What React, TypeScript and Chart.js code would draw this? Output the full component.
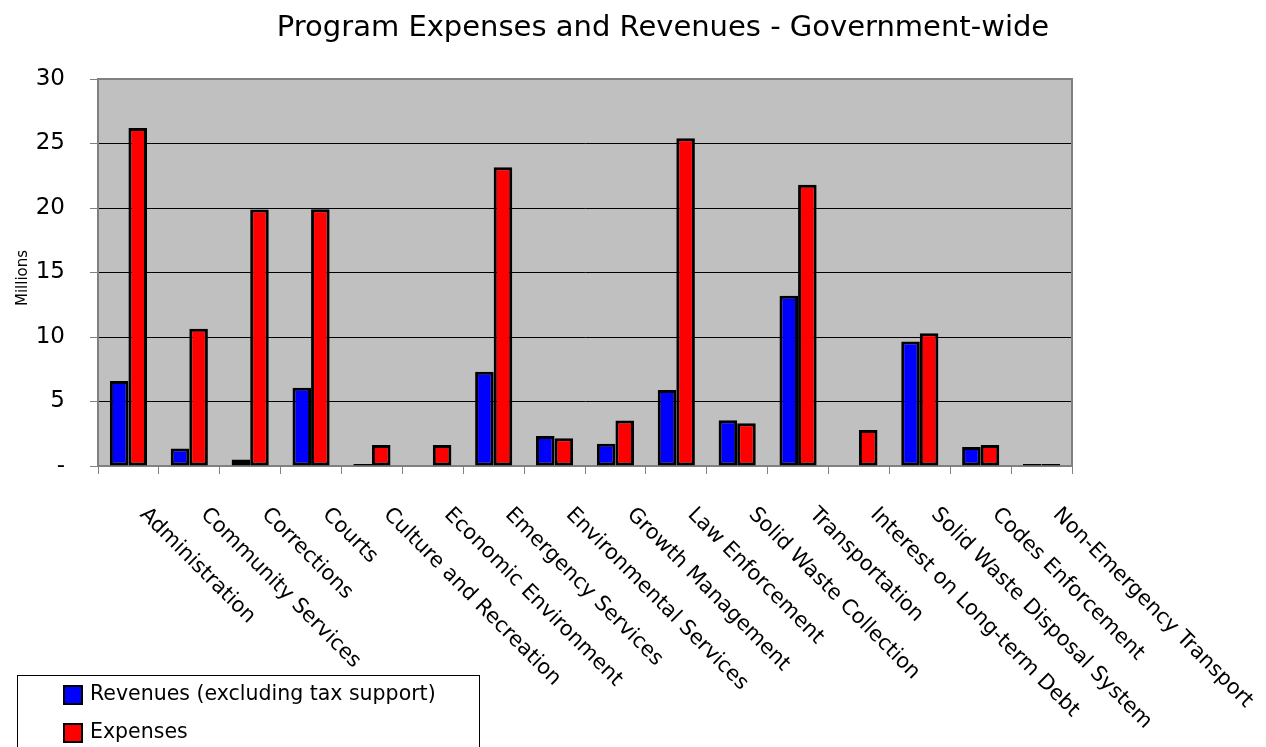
import { useEffect, useRef } from 'react';
import { Chart, registerables } from 'chart.js';

Chart.register(...registerables);

const chartTitle = 'Program Expenses and Revenues - Government-wide';
const yAxisTitle = 'Millions';
const categories = [
  'Administration',
  'Community Services',
  'Corrections',
  'Courts',
  'Culture and Recreation',
  'Economic Environment',
  'Emergency Services',
  'Environmental Services',
  'Growth Management',
  'Law Enforcement',
  'Solid Waste Collection',
  'Transportation',
  'Interest on Long-term Debt',
  'Solid Waste Disposal System',
  'Codes Enforcement',
  'Non-Emergency Transport',
];
const seriesNames = ['Revenues (excluding tax support)', 'Expenses'];
const revenues = [6.58, 1.35, 0.5, 6.07, 0.15, 0, 7.31, 2.32, 1.73, 5.89, 3.54, 13.2, 0, 9.66, 1.47, 0.15];
const expenses = [26.2, 10.64, 19.88, 19.9, 1.63, 1.63, 23.15, 2.15, 3.52, 25.4, 3.31, 21.8, 2.79, 10.3, 1.63, 0.15];
const yMin = 0;
const yMax = 30;
const yStep = 5;
const seriesColors = ['#0000FF', '#FF0000'];

const FONT = '"DejaVu Sans", sans-serif';
const W = 1266;
const H = 747;

const decorPlugin = {
  id: 'decor',
  beforeDraw(chart: any) {
    const { ctx, chartArea } = chart;
    ctx.save();
    ctx.fillStyle = '#FFFFFF';
    ctx.fillRect(0, 0, chart.width, chart.height);
    ctx.fillStyle = '#C0C0C0';
    ctx.fillRect(chartArea.left, chartArea.top, chartArea.right - chartArea.left, chartArea.bottom - chartArea.top);
    ctx.restore();
  },
  beforeDatasetsDraw(chart: any) {
    const { ctx, chartArea } = chart;
    ctx.save();
    ctx.strokeStyle = '#808080';
    ctx.lineWidth = 2;
    ctx.strokeRect(chartArea.left, chartArea.top, chartArea.right - chartArea.left, chartArea.bottom - chartArea.top);
    ctx.restore();
  },
  afterDraw(chart: any) {
    const { ctx, chartArea } = chart;
    const xScale = chart.scales.x;
    ctx.save();
    // title
    ctx.fillStyle = '#000';
    ctx.font = `29px ${FONT}`;
    ctx.textAlign = 'center';
    ctx.textBaseline = 'alphabetic';
    ctx.fillText(chartTitle, 663, 36);

    // y axis title
    ctx.save();
    ctx.font = `15px ${FONT}`;
    ctx.translate(27, 278);
    ctx.rotate(-Math.PI / 2);
    ctx.textAlign = 'center';
    ctx.fillText(yAxisTitle, 0, 0);
    ctx.restore();

    // x labels rotated clockwise
    ctx.font = `21px ${FONT}`;
    categories.forEach((label, i) => {
      const x = xScale.getPixelForValue(i);
      ctx.save();
      ctx.translate(x + 22, chartArea.bottom + 38);
      ctx.rotate(Math.PI / 4);
      ctx.textAlign = 'left';
      ctx.textBaseline = 'top';
      ctx.fillText(label, 0, 0);
      ctx.restore();
    });

    // legend
    ctx.fillStyle = '#FFFFFF';
    ctx.fillRect(17, 675, 462, 80);
    ctx.strokeStyle = '#000';
    ctx.lineWidth = 1;
    ctx.strokeRect(17.5, 675.5, 462, 80);
    ctx.font = `20.5px ${FONT}`;
    ctx.textAlign = 'left';
    ctx.textBaseline = 'middle';
    const rows = [695, 733];
    seriesNames.forEach((name, i) => {
      const y = rows[i];
      ctx.fillStyle = seriesColors[i];
      ctx.fillRect(64, y - 9, 18, 18);
      ctx.strokeStyle = '#000';
      ctx.lineWidth = 2;
      ctx.strokeRect(64, y - 9, 18, 18);
      ctx.fillStyle = '#000';
      ctx.fillText(name, 90, y);
    });
    ctx.restore();
  },
};

export default function App() {
  const ref = useRef<HTMLCanvasElement>(null);
  useEffect(() => {
    document.body.style.margin = '0';
    const canvas = ref.current;
    if (!canvas) return;
    const chart = new Chart(canvas, {
      type: 'bar',
      data: {
        labels: categories,
        datasets: [
          {
            label: seriesNames[0],
            data: revenues,
            backgroundColor: seriesColors[0],
            borderColor: '#000',
            borderWidth: 3,
            borderSkipped: false,
            categoryPercentage: 0.61,
            barPercentage: 1,
          },
          {
            label: seriesNames[1],
            data: expenses,
            backgroundColor: seriesColors[1],
            borderColor: '#000',
            borderWidth: 3,
            borderSkipped: false,
            categoryPercentage: 0.61,
            barPercentage: 1,
          },
        ],
      },
      options: {
        responsive: false,
        animation: false,
        devicePixelRatio: 1,
        layout: { padding: { left: 0, top: 79, right: W - 1072, bottom: 0 } },
        plugins: {
          legend: { display: false },
          title: { display: false },
          tooltip: { enabled: false },
        },
        scales: {
          x: {
            afterFit(scale: any) {
              scale.height = H - 466;
            },
            grid: {
              offset: true,
              drawOnChartArea: false,
              drawTicks: true,
              tickLength: 8,
              tickColor: '#808080',
              tickWidth: 1,
            },
            border: { display: true, color: '#808080', width: 2 },
            ticks: { display: false },
          },
          y: {
            min: yMin,
            max: yMax,
            afterFit(scale: any) {
              scale.width = 98;
            },
            ticks: {
              stepSize: yStep,
              color: '#000',
              font: { family: FONT, size: 23 },
              padding: 25,
              callback: (v: any) => (Number(v) === 0 ? '-' : String(v)),
            },
            grid: {
              color: (c: any) =>
                c.tick && (c.tick.value === yMin || c.tick.value === yMax) ? 'rgba(0,0,0,0)' : '#000',
              lineWidth: 1,
              drawTicks: true,
              tickLength: 8,
              tickColor: '#808080',
              tickWidth: 1,
            },
            border: { display: true, color: '#808080', width: 2 },
          },
        },
      },
      plugins: [decorPlugin],
    });
    return () => chart.destroy();
  }, []);
  return (
    <div style={{ width: W, height: H, position: 'relative' }}>
      <canvas ref={ref} width={W} height={H} />
    </div>
  );
}
